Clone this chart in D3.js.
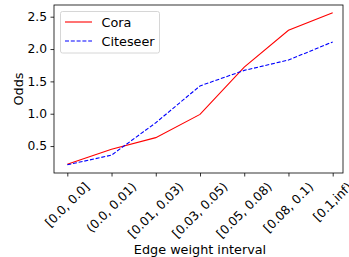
<!DOCTYPE html>
<html><head><meta charset="utf-8">
<script src="https://cdn.jsdelivr.net/npm/d3@7"></script>
<style>html,body{margin:0;padding:0;background:#fff;overflow:hidden}</style>
</head><body>
<svg id="c" width="349" height="257"></svg>
<script>
const categories = ["[0.0, 0.0]", "(0.0, 0.01)", "[0.01, 0.03)", "[0.03, 0.05)", "[0.05, 0.08)", "[0.08, 0.1)", "[0.1,inf)"];
const cora = [0.22, 0.45, 0.63, 0.99, 1.72, 2.29, 2.56];
const citeseer = [0.21, 0.36, 0.86, 1.43, 1.67, 1.83, 2.11];
const yTicks = [0.5, 1.0, 1.5, 2.0, 2.5];
const seriesNames = ["Cora", "Citeseer"];

const svg = d3.select("#c");
const L = 54, R = 343, T = 5, B = 173;
const font = "DejaVu Sans, sans-serif";
const tickFs = 12.3, labFs = 12.8;
const x = d3.scalePoint().domain(categories).range([67.3, 332.7]);
const y = d3.scaleLinear().domain([0, 2.5]).range([178.4, 16.7]);

// lines
const line = d3.line().x((d, i) => x(categories[i])).y(d => y(d));
svg.append("path").datum(cora).attr("d", line).attr("fill", "none")
  .attr("stroke", "#ff0000").attr("stroke-width", 1.1);
svg.append("path").datum(citeseer).attr("d", line).attr("fill", "none")
  .attr("stroke", "#0000ff").attr("stroke-width", 1.1).attr("stroke-dasharray", "4,1.8");

// frame
svg.append("rect").attr("x", L).attr("y", T).attr("width", R - L).attr("height", B - T)
  .attr("fill", "none").attr("stroke", "#000").attr("stroke-width", 0.8);

// y axis
const ya = svg.append("g").attr("transform", `translate(${L},0)`)
  .call(d3.axisLeft(y).tickValues(yTicks).tickFormat(d3.format(".1f")).tickSize(3.5).tickPadding(3.5));
ya.select(".domain").remove();
ya.selectAll("text").attr("font-family", font).attr("font-size", tickFs).attr("fill", "#000");
ya.selectAll("line").attr("stroke", "#000").attr("stroke-width", 0.8);

// x axis
const xa = svg.append("g").attr("transform", `translate(0,${B})`)
  .call(d3.axisBottom(x).tickSize(3.5).tickFormat(""));
xa.select(".domain").remove();
xa.selectAll("line").attr("stroke", "#000").attr("stroke-width", 0.8);

const h = tickFs * 1.0;
categories.forEach(c => {
  const t = svg.append("text").text(c).attr("font-family", font).attr("font-size", tickFs)
    .attr("text-anchor", "middle").attr("dominant-baseline", "central");
  const len = t.node().getComputedTextLength();
  const cy = 180.5 + (len + h) / (2 * Math.SQRT2);
  t.attr("transform", `translate(${x(c)},${cy}) rotate(-45)`);
});

svg.append("text").text("Edge weight interval").attr("x", 200).attr("y", 253.5)
  .attr("text-anchor", "middle").attr("font-family", font).attr("font-size", labFs);
svg.append("text").text("Odds").attr("transform", `translate(23.3,89) rotate(-90)`)
  .attr("text-anchor", "middle").attr("font-family", font).attr("font-size", labFs);

// legend
const lg = svg.append("g");
lg.append("rect").attr("x", 60.5).attr("y", 11.5).attr("width", 99).attr("height", 41.5).attr("rx", 2)
  .attr("fill", "#fff").attr("fill-opacity", 0.8).attr("stroke", "#cccccc").attr("stroke-width", 0.8);
const cols = ["#ff0000", "#0000ff"], dash = [null, "4,1.8"], rows = [22, 41];
seriesNames.forEach((n, i) => {
  lg.append("line").attr("x1", 65).attr("x2", 92).attr("y1", rows[i]).attr("y2", rows[i])
    .attr("stroke", cols[i]).attr("stroke-width", 1.1).attr("stroke-dasharray", dash[i]);
  lg.append("text").text(n).attr("x", 101.5).attr("y", rows[i]).attr("dominant-baseline", "central")
    .attr("font-family", font).attr("font-size", labFs);
});
</script>
</body></html>
